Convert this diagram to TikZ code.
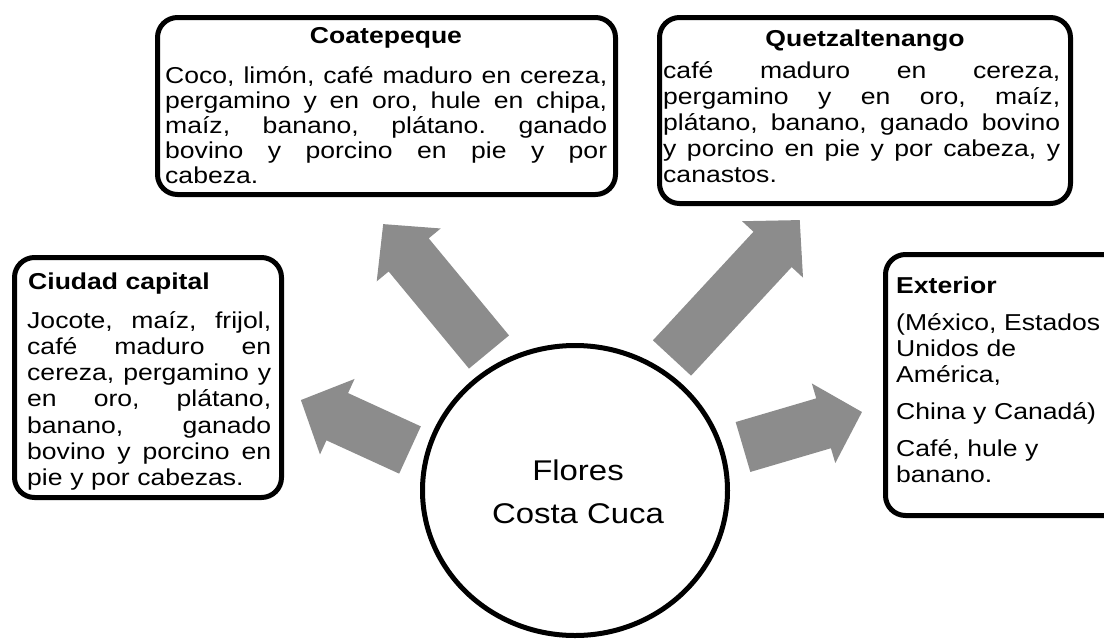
\documentclass[tikz,border=0pt]{standalone}
\usepackage{fontspec}
\setmainfont{Liberation Sans}[FakeStretch=1.155]
\usetikzlibrary{shapes.geometric}
\definecolor{arrowgray}{RGB}{140,140,140}
\newcommand\jl[2]{{\spaceskip=\fontdimen2\font plus 1fil\relax\makebox[#1][s]{#2}}}
\newcommand\blockarrow[3]{% tail coordinate, angle, length
  \fill[arrowgray, shift={(#1)}, rotate=#2]
    (0,-26) -- (#3-40,-26) -- (#3-40,-41.5) -- (#3,0) -- (#3-40,41.5) -- (#3-40,26) -- (0,26) -- cycle;}
\begin{document}
\begin{tikzpicture}[x=1pt,y=-1pt,
  box/.style={draw=black, line width=5pt, rounded corners=20pt, fill=white, outer sep=0pt, inner sep=0pt, anchor=north west},
  title/.style={font=\fontsize{23pt}{25pt}\selectfont\bfseries, inner sep=0pt},
  body/.style={inner sep=0pt, align=left, anchor=base west},
  center/.style={font=\fontsize{28.5pt}{34pt}\selectfont, inner sep=0pt, anchor=base},
]
\frenchspacing
\useasboundingbox (0,0) rectangle (1104,641);
\begin{scope}
\clip (0,0) rectangle (1104,641);
% boxes
\node[box, minimum width=458pt, minimum height=177pt] (coat) at (157.5,17.5) {};
\node[box, minimum width=411pt, minimum height=186pt] (quet) at (659.5,17.5) {};
\node[box, minimum width=267pt, minimum height=240pt] (ciud) at (14.5,257.5) {};
\node[box, minimum width=245pt, minimum height=261pt] (ext) at (885.5,254.5) {};
% centre
\node[draw=black, line width=5pt, ellipse, minimum width=305pt, minimum height=290pt, inner sep=0pt] (flores) at (575,490.5) {};
\node[center] (floresA) at (578,480) {Flores};
\node[center] (floresB) at (578,523) {Costa Cuca};
% arrows
\coordinate (t1) at (489,352);
\coordinate (t2) at (672,358);
\coordinate (t3) at (410,450);
\coordinate (t4) at (743,447);
\blockarrow{t1}{129.6}{166}
\blockarrow{t2}{47.2}{188}
\blockarrow{t3}{155.4}{120}
\blockarrow{t4}{16.4}{124}
% Coatepeque
\node[title, anchor=base] (coatT) at (386,43) {Coatepeque};
\node[body, text width=442pt, font=\fontsize{23pt}{25pt}\selectfont] (coatB) at (165,83)
 {\jl{442pt}{Coco, limón, café maduro en cereza,}\\
  \jl{442pt}{pergamino y en oro, hule en chipa,}\\
  \jl{442pt}{maíz, banano, plátano. ganado}\\
  \jl{442pt}{bovino y porcino en pie y por}\\
  cabeza.};
% Quetzaltenango
\node[title, anchor=base] (quetT) at (865,46) {Quetzaltenango};
\node[body, text width=397pt, font=\fontsize{23pt}{26pt}\selectfont] (quetB) at (663,78)
 {\jl{397pt}{café maduro en cereza,}\\
  \jl{397pt}{pergamino y en oro, maíz,}\\
  \jl{397pt}{plátano, banano, ganado bovino}\\
  \jl{397pt}{y porcino en pie y por cabeza, y}\\
  canastos.};
% Ciudad capital
\node[title, anchor=base west] (ciudT) at (28,289) {Ciudad capital};
\node[body, text width=244pt, font=\fontsize{23pt}{26.3pt}\selectfont] (ciudB) at (27,328)
 {\jl{244pt}{Jocote, maíz, frijol,}\\
  \jl{244pt}{café maduro en}\\
  \jl{244pt}{cereza, pergamino y}\\
  \jl{244pt}{en oro, plátano,}\\
  \jl{244pt}{banano, ganado}\\
  \jl{244pt}{bovino y porcino en}\\
  pie y por cabezas.};
% Exterior
\node[title, anchor=base west] (extT) at (896,293) {Exterior};
\node[body, text width=210pt, font=\fontsize{23pt}{26pt}\selectfont] (extB) at (896,330)
 {(México, Estados\\
  Unidos de\\
  América,\\[11pt]
  China y Canadá)\\[11pt]
  Café, hule y\\
  banano.};
\end{scope}
\end{tikzpicture}
\end{document}
